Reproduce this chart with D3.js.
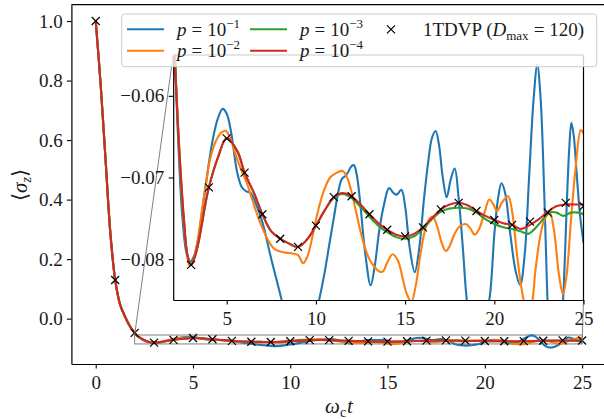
<!DOCTYPE html>
<html><head><meta charset="utf-8">
<script src="https://cdn.jsdelivr.net/npm/d3@7"></script>
<style>
body{margin:0;background:#fff}
svg{display:block}
svg text{font-family:"Liberation Serif","Times New Roman","DejaVu Serif",serif !important;}
</style>
</head><body>
<svg id="c" width="604" height="419"></svg>
<script>
// ---------------- data ----------------
const xTicksMain = [0, 5, 10, 15, 20, 25];
const yTicksMain = [0.0, 0.2, 0.4, 0.6, 0.8, 1.0];
const xTicksInset = [5, 10, 15, 20, 25];
const yTicksInset = [-0.06, -0.07, -0.08];

// shared initial decay (all p curves overlap here)
const decayT = [0, 0.25, 0.5, 0.75, 1.0, 1.25, 1.5, 1.75, 2.0];
const decayV = [1.0, 0.79, 0.54, 0.29, 0.13, 0.048, 0.008, -0.025, -0.048];

const blueT = [2.1, 2.25, 2.5, 2.75, 2.95, 3.15, 3.4, 3.6, 3.8, 4.0, 4.25, 4.5, 4.77, 5.0, 5.25, 5.58, 5.85, 6.1, 6.35, 6.6, 7.0, 7.5, 8.0, 8.5, 9.0, 9.25, 9.5, 9.8, 10.2, 10.5, 10.75, 11.0, 11.25, 11.45, 11.7, 12.0, 12.13, 12.3, 12.5, 12.75, 13.07, 13.3, 13.55, 13.8, 14.1, 14.35, 14.53, 14.79, 15.0, 15.25, 15.54, 15.8, 16.05, 16.3, 16.5, 16.71, 16.9, 17.1, 17.33, 17.55, 17.78, 18.0, 18.25, 18.45, 18.75, 19.05, 19.4, 19.75, 20.0, 20.2, 20.4, 20.6, 20.9, 21.2, 21.45, 21.7, 21.95, 22.2, 22.41, 22.6, 22.8, 22.95, 23.1, 23.25, 23.4, 23.55, 23.7, 23.9, 24.05, 24.2, 24.32, 24.45, 24.6, 24.8, 25.0];
const blueV = [-0.0555, -0.0640, -0.0745, -0.0793, -0.0803, -0.0797, -0.0775, -0.0745, -0.0714, -0.0682, -0.0650, -0.0628, -0.0616, -0.0622, -0.0645, -0.0693, -0.0712, -0.0717, -0.0719, -0.0730, -0.0755, -0.0800, -0.0843, -0.0888, -0.0920, -0.0925, -0.0915, -0.0885, -0.0848, -0.0815, -0.0782, -0.0750, -0.0718, -0.0702, -0.0697, -0.0686, -0.0685, -0.0698, -0.0735, -0.0790, -0.0832, -0.0808, -0.0765, -0.0735, -0.0713, -0.0719, -0.0721, -0.0715, -0.0735, -0.0785, -0.0816, -0.0785, -0.0728, -0.0680, -0.0652, -0.0643, -0.0660, -0.0698, -0.0724, -0.0703, -0.0689, -0.0725, -0.0790, -0.0848, -0.0890, -0.0905, -0.0885, -0.0845, -0.0770, -0.0727, -0.0707, -0.0718, -0.0770, -0.0815, -0.0832, -0.0795, -0.0700, -0.0605, -0.0562, -0.0605, -0.0720, -0.0830, -0.0915, -0.0960, -0.0972, -0.0955, -0.0910, -0.0830, -0.0740, -0.0665, -0.0633, -0.0648, -0.0690, -0.0745, -0.0780];

const orangeT = [2.1, 2.25, 2.5, 2.75, 2.92, 3.1, 3.35, 3.6, 3.85, 4.1, 4.4, 4.7, 4.96, 5.25, 5.5, 5.8, 6.1, 6.4, 6.7, 7.0, 7.3, 7.6, 7.9, 8.3, 8.7, 9.0, 9.28, 9.5, 9.75, 10.0, 10.25, 10.5, 10.8, 11.1, 11.5, 11.75, 12.0, 12.25, 12.5, 12.75, 13.0, 13.3, 13.55, 13.76, 14.0, 14.3, 14.6, 14.9, 15.1, 15.35, 15.6, 15.85, 16.1, 16.35, 16.55, 16.8, 17.05, 17.28, 17.5, 17.75, 18.05, 18.4, 18.65, 18.9, 19.15, 19.45, 19.72, 19.95, 20.15, 20.45, 20.77, 21.0, 21.25, 21.5, 21.7, 21.9, 22.1, 22.3, 22.55, 22.8, 23.1, 23.35, 23.6, 23.85, 24.05, 24.3, 24.55, 24.85, 25.0];
const orangeV = [-0.0555, -0.0625, -0.0728, -0.0790, -0.0808, -0.0803, -0.0780, -0.0742, -0.0705, -0.0675, -0.0655, -0.0645, -0.0643, -0.0655, -0.0672, -0.0690, -0.0705, -0.0725, -0.0745, -0.0762, -0.0776, -0.0786, -0.0790, -0.0792, -0.0793, -0.0795, -0.0805, -0.0798, -0.0778, -0.0752, -0.0730, -0.0713, -0.0700, -0.0695, -0.0692, -0.0700, -0.0718, -0.0742, -0.0766, -0.0786, -0.0800, -0.0810, -0.0815, -0.0815, -0.0804, -0.0794, -0.0802, -0.0827, -0.0843, -0.0852, -0.0832, -0.0795, -0.0766, -0.0751, -0.0748, -0.0760, -0.0780, -0.0790, -0.0784, -0.0770, -0.0760, -0.0757, -0.0762, -0.0770, -0.0763, -0.0743, -0.0727, -0.0733, -0.0741, -0.0730, -0.0723, -0.0742, -0.0790, -0.0832, -0.0855, -0.0865, -0.0855, -0.0815, -0.0775, -0.0752, -0.0743, -0.0765, -0.0815, -0.0843, -0.0820, -0.0752, -0.0690, -0.0642, -0.0646];

const greenT = [2.1, 2.25, 2.4, 2.6, 2.8, 3.0, 3.2, 3.45, 3.8, 4.0, 4.5, 5.0, 5.6, 6.0, 6.55, 7.0, 7.5, 8.0, 8.5, 9.0, 9.5, 10.0, 10.5, 11.0, 11.5, 12.0, 12.5, 13.0, 13.5, 14.0, 14.5, 15.0, 15.5, 16.0, 16.5, 17.0, 17.5, 18.0, 18.5, 19.0, 19.5, 20.0, 20.5, 21.0, 21.5, 21.9, 22.3, 22.7, 23.1, 23.5, 23.85, 24.3, 24.7, 25.0];
const greenV = [-0.0556, -0.0630, -0.0688, -0.0751, -0.0795, -0.0807, -0.0798, -0.0776, -0.0733, -0.0712, -0.0676, -0.0652, -0.0668, -0.0694, -0.0720, -0.0745, -0.0766, -0.0775, -0.0781, -0.0785, -0.0776, -0.0759, -0.0740, -0.0725, -0.0720, -0.0725, -0.0736, -0.0748, -0.0759, -0.0767, -0.0773, -0.0775, -0.0772, -0.0763, -0.0751, -0.0742, -0.0738, -0.0737, -0.0738, -0.0743, -0.0751, -0.0757, -0.0761, -0.0763, -0.0766, -0.0769, -0.0762, -0.0752, -0.0743, -0.0743, -0.0747, -0.0743, -0.0743, -0.0745];

const redT = [2.1, 2.25, 2.4, 2.6, 2.8, 3.0, 3.2, 3.45, 3.8, 4.0, 4.5, 5.0, 5.6, 6.0, 6.55, 7.0, 7.5, 8.0, 8.5, 9.0, 9.5, 10.0, 10.5, 11.0, 11.5, 12.0, 12.5, 13.0, 13.5, 14.0, 14.5, 15.0, 15.5, 16.0, 16.5, 17.0, 17.5, 18.0, 18.5, 19.0, 19.5, 20.0, 20.5, 21.0, 21.5, 22.0, 22.5, 23.0, 23.5, 24.0, 24.5, 25.0];
const redV = [-0.0556, -0.0630, -0.0688, -0.0751, -0.0795, -0.0807, -0.0798, -0.0776, -0.0733, -0.0712, -0.0676, -0.0652, -0.0668, -0.0694, -0.0720, -0.0745, -0.0766, -0.0775, -0.0781, -0.0785, -0.0776, -0.0759, -0.0740, -0.0724, -0.0719, -0.0723, -0.0733, -0.0745, -0.0756, -0.0764, -0.0770, -0.0772, -0.0769, -0.0761, -0.0750, -0.0739, -0.0733, -0.0731, -0.0734, -0.0741, -0.0747, -0.0752, -0.0756, -0.0758, -0.0763, -0.0758, -0.0751, -0.0742, -0.0735, -0.0733, -0.0733, -0.0733];

const tdvpT = [0, 1, 2, 3, 4, 5, 6, 7, 8, 9, 10, 11, 12, 13, 14, 15, 16, 17, 18, 19, 20, 21, 22, 23, 24, 25];
const tdvpV = [1.0, 0.130, -0.048, -0.0807, -0.0712, -0.0652, -0.0694, -0.0745, -0.0775, -0.0785, -0.0759, -0.0724, -0.0723, -0.0745, -0.0764, -0.0772, -0.0761, -0.0739, -0.0731, -0.0741, -0.0752, -0.0758, -0.0754, -0.0743, -0.0731, -0.0735];

const seriesNames = ["p1", "p2", "p3", "p4"];
const seriesExp = ["−1", "−2", "−3", "−4"];
const seriesColors = ["#1f77b4", "#ff7f0e", "#2ca02c", "#d62728"];

// --------------- build ---------------
const mk = (T, V) => decayT.map((t, i) => [t, decayV[i]]).concat(T.map((t, i) => [t, V[i]]));
const series = [
  {data: mk(blueT, blueV), color: seriesColors[0]},
  {data: mk(orangeT, orangeV), color: seriesColors[1]},
  {data: mk(greenT, greenV), color: seriesColors[2]},
  {data: mk(redT, redV), color: seriesColors[3]}
];
const tdvp = tdvpT.map((t, i) => [t, tdvpV[i]]);

const FS = 19;
const TXT = '#1a1a1a';
const svg = d3.select('#c');

// main axes
const MX0 = 71.4, MX1 = 606.4, MY0 = 4.7, MY1 = 364;
const x = d3.scaleLinear().domain([-1.25, 26.25]).range([MX0, MX1]);
const y = d3.scaleLinear().domain([-0.1524, 1.0549]).range([MY1, MY0]);

const defs = svg.append('defs');
defs.append('clipPath').attr('id', 'mainclip').append('rect')
  .attr('x', MX0).attr('y', MY0).attr('width', MX1 - MX0).attr('height', MY1 - MY0);

const gMain = svg.append('g').attr('clip-path', 'url(#mainclip)');
const line = d3.line().x(d => x(d[0])).y(d => y(d[1])).curve(d3.curveCatmullRom.alpha(0.5));

// inset indicator rectangle and connectors
const IX = [2, 25], IY = [-0.085, -0.055];
const IX0 = 173.2, IX1 = 583.5, IY0 = 55, IY1 = 300;
gMain.append('rect')
  .attr('x', x(IX[0])).attr('y', y(IY[1]))
  .attr('width', x(IX[1]) - x(IX[0])).attr('height', y(IY[0]) - y(IY[1]))
  .attr('fill', 'none').attr('stroke', '#808080').attr('stroke-width', 1);
svg.append('line').attr('x1', x(IX[0])).attr('y1', y(IY[1])).attr('x2', IX0).attr('y2', IY0)
  .attr('stroke', '#808080').attr('stroke-width', 1);
svg.append('line').attr('x1', x(IX[1])).attr('y1', y(IY[0])).attr('x2', IX1).attr('y2', IY1)
  .attr('stroke', '#808080').attr('stroke-width', 1);

series.forEach(s => {
  gMain.append('path').attr('d', line(s.data)).attr('fill', 'none')
    .attr('stroke', s.color).attr('stroke-width', 2.1).attr('stroke-linejoin', 'round');
});
const xPath = s => `M${-s},${-s}L${s},${s}M${-s},${s}L${s},${-s}`;
gMain.selectAll('path.mk').data(tdvp).enter().append('path').attr('class', 'mk')
  .attr('transform', d => `translate(${x(d[0])},${y(d[1])})`)
  .attr('d', xPath(4)).attr('stroke', '#000').attr('stroke-width', 1.2).attr('fill', 'none');

function styleAxis(g) {
  g.attr('font-size', FS);
  g.selectAll('line').attr('stroke', '#000').attr('stroke-width', 1.1);
  g.selectAll('path.domain').attr('stroke', '#000').attr('stroke-width', 1.2);
  g.selectAll('text').attr('fill', TXT);
}
const gx = svg.append('g').attr('transform', `translate(0,${MY1})`)
  .call(d3.axisBottom(x).tickValues(xTicksMain).tickSize(4.5).tickSizeOuter(0).tickPadding(7.5).tickFormat(d3.format('d')));
styleAxis(gx);
const gy = svg.append('g').attr('transform', `translate(${MX0},0)`)
  .call(d3.axisLeft(y).tickValues(yTicksMain).tickSize(4.5).tickSizeOuter(0).tickPadding(4.2).tickFormat(d3.format('.1f')));
styleAxis(gy);
svg.append('line').attr('x1', MX0).attr('x2', MX1).attr('y1', MY0).attr('y2', MY0).attr('stroke', '#000').attr('stroke-width', 1.2);
svg.append('line').attr('x1', MX1).attr('x2', MX1).attr('y1', MY0).attr('y2', MY1).attr('stroke', '#000').attr('stroke-width', 1.2);

// axis labels
const xl = svg.append('text').attr('x', 339).attr('y', 413).attr('text-anchor', 'middle')
  .attr('font-size', 21).attr('fill', TXT);
xl.append('tspan').attr('font-style', 'italic').text('ω');
xl.append('tspan').attr('font-size', 14).attr('dy', 4).text('c');
xl.append('tspan').attr('font-style', 'italic').attr('dy', -4).attr('dx', 1).text('t');

const yl = svg.append('text').attr('transform', 'translate(27,185) rotate(-90)').attr('text-anchor', 'middle')
  .attr('font-size', 21).attr('fill', TXT);
yl.append('tspan').text('⟨');
yl.append('tspan').attr('font-style', 'italic').text('σ');
yl.append('tspan').attr('font-style', 'italic').attr('font-size', 14).attr('dy', 4).text('z');
yl.append('tspan').attr('dy', -4).text('⟩');

// inset axes
const xi = d3.scaleLinear().domain(IX).range([IX0, IX1]);
const yi = d3.scaleLinear().domain(IY).range([IY1, IY0]);
svg.append('rect').attr('x', IX0).attr('y', IY0).attr('width', IX1 - IX0).attr('height', IY1 - IY0).attr('fill', '#fff');
defs.append('clipPath').attr('id', 'insclip').append('rect')
  .attr('x', IX0).attr('y', IY0).attr('width', IX1 - IX0).attr('height', IY1 - IY0);
const gIns = svg.append('g').attr('clip-path', 'url(#insclip)');
const lineI = d3.line().x(d => xi(d[0])).y(d => yi(d[1])).curve(d3.curveCatmullRom.alpha(0.5));
series.forEach(s => {
  gIns.append('path').attr('d', lineI(s.data)).attr('fill', 'none')
    .attr('stroke', s.color).attr('stroke-width', 2.1).attr('stroke-linejoin', 'round');
});
gIns.selectAll('path.mk').data(tdvp).enter().append('path').attr('class', 'mk')
  .attr('transform', d => `translate(${xi(d[0])},${yi(d[1])})`)
  .attr('d', xPath(4)).attr('stroke', '#000').attr('stroke-width', 1.2).attr('fill', 'none');

const gxi = svg.append('g').attr('transform', `translate(0,${IY1})`)
  .call(d3.axisBottom(xi).tickValues(xTicksInset).tickSize(4.5).tickSizeOuter(0).tickPadding(7.5).tickFormat(d3.format('d')));
styleAxis(gxi);
const gyi = svg.append('g').attr('transform', `translate(${IX0},0)`)
  .call(d3.axisLeft(yi).tickValues(yTicksInset).tickSize(4.5).tickSizeOuter(0).tickPadding(4.5).tickFormat(d3.format('.2f')));
styleAxis(gyi);
svg.append('line').attr('x1', IX0).attr('x2', IX1).attr('y1', IY0).attr('y2', IY0).attr('stroke', '#000').attr('stroke-width', 1.2);
svg.append('line').attr('x1', IX1).attr('x2', IX1).attr('y1', IY0).attr('y2', IY1).attr('stroke', '#000').attr('stroke-width', 1.2);

// legend
const lg = svg.append('g');
lg.append('rect').attr('x', 121.7).attr('y', 14).attr('width', 475).attr('height', 52.7).attr('rx', 3)
  .attr('fill', '#fff').attr('fill-opacity', 0.8).attr('stroke', '#cccccc').attr('stroke-width', 1);
const legPos = [[127, 29.3], [127, 50.7], [250, 29.3], [250, 50.7]];
seriesNames.forEach((n, i) => {
  const [lx, ly] = legPos[i];
  lg.append('line').attr('x1', lx).attr('x2', lx + 37).attr('y1', ly).attr('y2', ly)
    .attr('stroke', seriesColors[i]).attr('stroke-width', 2.1);
  const t = lg.append('text').attr('x', lx + 50).attr('y', ly + 6.5)
    .attr('font-size', FS).attr('fill', TXT);
  t.append('tspan').attr('font-style', 'italic').text('p');
  t.append('tspan').attr('dx', 5).text('=');
  t.append('tspan').attr('dx', 5).text('10');
  t.append('tspan').attr('font-size', 13).attr('dy', -8).text(seriesExp[i]);
});
lg.append('path').attr('transform', 'translate(391,29.3)').attr('d', xPath(4))
  .attr('stroke', '#000').attr('stroke-width', 1.2).attr('fill', 'none');
const tt = lg.append('text').attr('x', 423).attr('y', 35.8)
  .attr('font-size', FS).attr('fill', TXT);
tt.append('tspan').text('1TDVP (');
tt.append('tspan').attr('font-style', 'italic').text('D');
tt.append('tspan').attr('font-size', 13).attr('dy', 4).text('max');
tt.append('tspan').attr('dy', -4).attr('dx', 5).text('=');
tt.append('tspan').attr('dx', 5).text('120)');
</script>
</body></html>
